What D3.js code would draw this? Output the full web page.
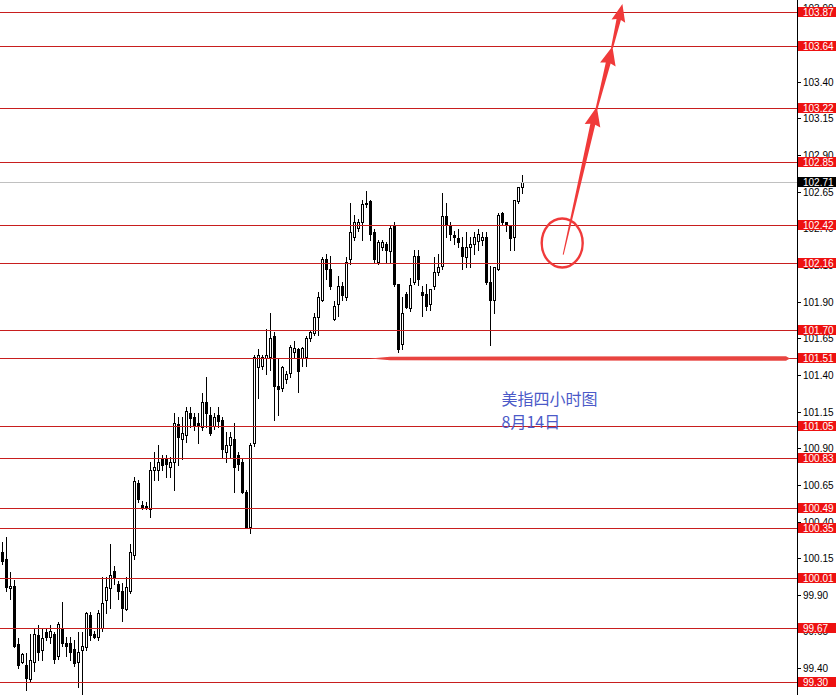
<!DOCTYPE html>
<html><head><meta charset="utf-8">
<script src="https://cdn.jsdelivr.net/npm/d3@7/dist/d3.min.js"></script>
<style>html,body{margin:0;padding:0;background:#fff;overflow:hidden}svg{display:block}</style>
</head><body>
<svg id="c" width="836" height="695"></svg>
<script>
// ---- Data (US Dollar Index, 4H candles) ----
const opens = [100.19,100.14,99.94,99.96,99.56,99.44,99.42,99.32,99.44,99.62,
99.52,99.64,99.61,99.63,99.48,99.67,99.57,99.57,99.53,99.44,
99.52,99.54,99.76,99.63,99.61,99.67,99.86,99.94,100.06,99.97,
99.92,99.80,99.92,100.17,100.66,100.51,100.50,100.48,100.75,100.75,
100.82,100.82,100.77,100.80,101.06,100.96,100.99,101.14,101.11,101.07,
101.04,101.21,101.12,101.05,101.12,101.09,100.87,100.92,100.96,100.85,
100.80,100.60,100.36,100.93,101.45,101.46,101.51,101.52,101.66,101.32,
101.31,101.37,101.41,101.55,101.57,101.51,101.52,101.65,101.68,101.79,
101.91,102.19,102.12,101.78,101.88,102.00,101.93,102.19,102.34,102.40,
102.44,102.57,102.58,102.37,102.17,102.27,102.29,102.24,102.41,102.02,
101.61,101.95,101.85,102.03,102.21,101.96,101.95,101.88,102.00,102.10,
102.14,102.48,102.41,102.35,102.33,102.27,102.20,102.27,102.29,102.31,
102.32,102.34,102.03,101.91,102.12,102.50,102.44,102.41,102.34,102.58,
102.68];
const highs = [100.26,100.29,100.05,100.00,99.60,99.50,99.50,99.63,99.67,99.69,
99.67,99.67,99.69,99.64,99.71,99.85,99.61,99.61,99.59,99.64,
99.64,99.78,99.78,99.65,99.79,100.02,100.02,100.24,100.09,99.99,
99.98,100.02,100.24,100.70,100.68,100.54,100.53,100.80,100.87,100.92,
100.85,100.85,100.84,101.14,101.11,101.11,101.18,101.18,101.14,101.14,
101.27,101.38,101.18,101.14,101.18,101.11,101.01,101.01,101.07,100.87,
100.82,100.61,100.93,101.53,101.57,101.53,101.71,101.82,101.69,101.51,
101.46,101.42,101.60,101.63,101.58,101.59,101.66,101.70,101.82,101.96,
102.20,102.22,102.21,101.90,102.07,102.03,102.20,102.57,102.49,102.46,
102.59,102.65,102.59,102.39,102.32,102.32,102.30,102.42,102.44,102.02,
101.93,101.96,102.06,102.25,102.25,102.00,102.02,101.98,102.20,102.22,
102.64,102.57,102.44,102.38,102.39,102.34,102.37,102.34,102.37,102.39,
102.37,102.37,102.14,102.13,102.50,102.51,102.44,102.42,102.59,102.68,
102.76];
const lows = [100.11,99.92,99.87,99.54,99.40,99.43,99.25,99.31,99.38,99.45,
99.45,99.59,99.57,99.43,99.46,99.55,99.48,99.45,99.41,99.27,
99.22,99.52,99.59,99.60,99.59,99.65,99.77,99.81,99.97,99.87,
99.72,99.79,99.91,100.14,100.53,100.48,100.48,100.43,100.68,100.68,
100.75,100.70,100.70,100.61,100.78,100.82,100.94,101.04,101.02,100.93,
101.02,101.04,100.99,101.03,101.04,100.84,100.80,100.84,100.60,100.75,
100.59,100.35,100.32,100.91,101.24,101.44,101.40,101.43,101.09,101.12,
101.29,101.34,101.38,101.51,101.28,101.46,101.46,101.63,101.67,101.67,
101.90,102.05,101.98,101.77,101.80,101.91,101.91,102.15,102.32,102.38,
102.32,102.54,102.32,102.17,102.15,102.25,102.17,102.17,102.00,101.55,
101.57,101.85,101.83,102.02,102.01,101.80,101.84,101.84,101.98,102.08,
102.12,102.34,102.32,102.29,102.27,102.12,102.13,102.13,102.22,102.25,
102.28,102.02,101.60,101.82,102.11,102.42,102.38,102.25,102.25,102.57,
102.64];
const closes = [100.13,99.95,99.96,99.55,99.42,99.49,99.33,99.45,99.63,99.51,
99.60,99.61,99.65,99.46,99.70,99.57,99.55,99.51,99.43,99.51,
99.55,99.77,99.62,99.61,99.77,99.84,99.95,100.03,100.01,99.92,
99.81,99.95,100.19,100.67,100.55,100.49,100.49,100.75,100.77,100.80,
100.78,100.79,100.80,101.07,100.97,101.00,101.15,101.10,101.05,101.05,
101.21,101.14,101.00,101.11,101.08,100.89,100.92,100.97,100.77,100.79,
100.60,100.36,100.92,101.52,101.53,101.52,101.53,101.65,101.32,101.30,
101.45,101.40,101.59,101.58,101.42,101.58,101.65,101.69,101.79,101.93,
102.19,102.12,102.00,101.87,102.00,101.94,102.17,102.37,102.44,102.44,
102.56,102.56,102.36,102.19,102.30,102.30,102.25,102.40,102.02,101.57,
101.82,101.86,102.01,102.21,102.05,101.94,101.87,101.98,102.10,102.13,
102.48,102.42,102.36,102.34,102.30,102.21,102.27,102.29,102.34,102.36,
102.34,102.03,101.91,102.13,102.49,102.44,102.42,102.33,102.59,102.68,
102.71];
const levelPrices = [103.87,103.64,103.22,102.85,102.42,102.16,101.70,101.51,101.05,100.83,100.49,100.35,100.01,99.67,99.30];
const lastPrice = 102.71;
const supportPrice = 101.51;
const tickLabels = [99.40,99.65,99.90,100.15,100.40,100.65,100.90,101.15,101.40,101.65,101.90,102.15,102.40,102.65,102.90,103.15,103.40,103.65,103.90];
const titleLines = ["美指四小时图","8月14日"];

// ---- Layout ----
const W = 836, H = 695, axisX = 797;
const svg = d3.select("#c");
const x = d3.scaleLinear().domain([0, 130]).range([2, 522]);
const y = d3.scaleLinear().domain([99.30, 103.87]).range([682.8, 12.8]);
const row = v => Math.floor(y(v));
const RED_LINE = "#c81e1e", RED_BOX = "#ee1111", ANNO = "#f03a3a";

svg.append("rect").attr("width", W).attr("height", H).attr("fill", "#fff");

// candles
const candles = opens.map((o, i) => ({i, o, h: highs[i], l: lows[i], c: closes[i]}));
const plot = svg.append("g");
candles.forEach(d => {
  const cx = Math.round(x(d.i));
  const yh = row(d.h), yl = row(d.l);
  const top = row(Math.max(d.o, d.c)), bot = row(Math.min(d.o, d.c));
  plot.append("line").attr("x1", cx + 0.5).attr("x2", cx + 0.5)
    .attr("y1", yh).attr("y2", yl + 1).attr("stroke", "#000").attr("stroke-width", 1);
  if (d.c >= d.o && bot - top >= 2) {
    plot.append("rect").attr("x", cx - 0.5).attr("y", top + 0.5)
      .attr("width", 2).attr("height", bot - top)
      .attr("fill", "#fff").attr("stroke", "#000").attr("stroke-width", 1);
  } else {
    plot.append("rect").attr("x", cx - 1).attr("y", top)
      .attr("width", 3).attr("height", Math.max(1, bot - top + 1))
      .attr("fill", "#000");
  }
});

// bid line
svg.append("line").attr("x1", 0).attr("x2", axisX).attr("y1", row(lastPrice) + 0.5).attr("y2", row(lastPrice) + 0.5)
  .attr("stroke", "#c0c0c0").attr("stroke-width", 1);

// level lines
svg.append("g").selectAll("line").data(levelPrices).join("line")
  .attr("x1", 0).attr("x2", axisX)
  .attr("y1", d => row(d) + 0.5).attr("y2", d => row(d) + 0.5)
  .attr("stroke", RED_LINE).attr("stroke-width", 1);

// thick hand-drawn support line
{
  const yc = y(supportPrice) - 0.3;
  const x0 = x(92), x1 = x(197);
  svg.append("path").attr("fill", "#e84440")
    .attr("d", `M${x0},${yc} L${x0 + 20},${yc - 1.8} L${x1 - 4},${yc - 2.2} L${x1},${yc} L${x1 - 4},${yc + 2.2} L${x0 + 20},${yc + 1.8} Z`);
}

// annotations: circle + arrows
svg.append("ellipse").attr("cx", x(140.05)).attr("cy", y(102.30)).attr("rx", 20.5).attr("ry", 24.5)
  .attr("fill", "none").attr("stroke", ANNO).attr("stroke-width", 2.4);

function arrow(p0, p1, tailW, neckW, headW, headL) {
  const dx = p1[0] - p0[0], dy = p1[1] - p0[1], L = Math.hypot(dx, dy);
  const ux = dx / L, uy = dy / L, nx = -uy, ny = ux;
  const bx = p1[0] - ux * headL, by = p1[1] - uy * headL;
  const pts = [
    [p0[0] + nx * tailW / 2, p0[1] + ny * tailW / 2],
    [bx + nx * neckW / 2, by + ny * neckW / 2],
    [bx + nx * headW / 2 - ux * 1.5, by + ny * headW / 2 - uy * 1.5],
    p1,
    [bx - nx * headW / 2 - ux * 1.5, by - ny * headW / 2 - uy * 1.5],
    [bx - nx * neckW / 2, by - ny * neckW / 2],
    [p0[0] - nx * tailW / 2, p0[1] - ny * tailW / 2]
  ];
  svg.append("path").attr("fill", ANNO).attr("d", "M" + pts.map(p => p.join(",")).join("L") + "Z");
}
const P = (i, v) => [x(i), y(v)];
arrow(P(140.3, 102.22), P(148.7, 103.23), 1, 5, 16, 18);
arrow(P(148.6, 103.21), P(152.6, 103.64), 2, 5, 16, 17);
arrow(P(152.5, 103.63), P(155.1, 103.93), 2, 4.5, 14, 16);

// title text
const tg = svg.append("g").attr("font-family", "'Noto Sans CJK SC', sans-serif").attr("font-size", 16).attr("fill", "#4b5ac8");
tg.append("text").attr("x", x(124.9)).attr("y", 405).text(titleLines[0]);
tg.append("text").attr("x", x(124.9)).attr("y", 428).text(titleLines[1]);

// right axis
svg.append("line").attr("x1", axisX + 0.5).attr("x2", axisX + 0.5).attr("y1", 0).attr("y2", H).attr("stroke", "#000");
const yr = y.copy().interpolate(d3.interpolateRound);
const ax = svg.append("g").attr("transform", `translate(${axisX},0)`)
  .call(d3.axisRight(yr).tickValues(tickLabels).tickSize(4).tickPadding(2).tickFormat(d3.format(".2f")));
ax.select(".domain").remove();
ax.selectAll("text").attr("font-family", "'Liberation Sans', Arial, sans-serif").attr("font-size", 10).attr("fill", "#000");
ax.selectAll("line").attr("stroke", "#000");

// level label boxes
const lb = svg.append("g").attr("font-family", "'Liberation Sans', Arial, sans-serif").attr("font-size", 10);
const allLabels = levelPrices.map(v => ({v, bg: RED_BOX})).concat([{v: lastPrice, bg: "#000"}]);
allLabels.forEach(d => {
  const r = row(d.v);
  lb.append("rect").attr("x", axisX + 1).attr("y", r - 5).attr("width", W - axisX - 1).attr("height", 10).attr("fill", d.bg);
  lb.append("text").attr("x", 803).attr("y", r + 4).attr("fill", "#fff").text(d.v.toFixed(2));
});
</script>
</body></html>
